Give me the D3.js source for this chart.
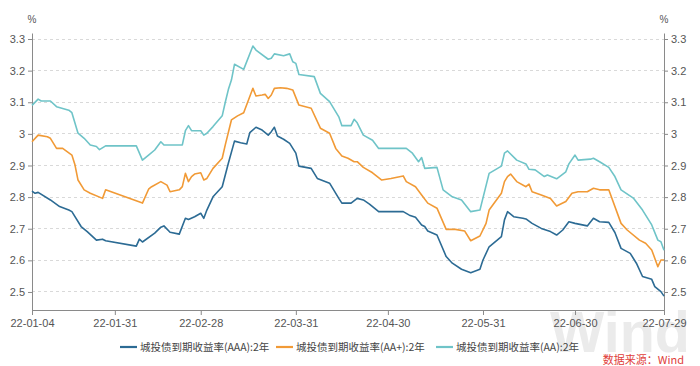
<!DOCTYPE html>
<html>
<head>
<meta charset="utf-8">
<script src="https://cdn.jsdelivr.net/npm/d3@7"></script>
<style>
  html, body { margin: 0; padding: 0; background: #fff; }
  svg { display: block; }
</style>
</head>
<body>
<svg id="chart" width="700" height="366"></svg>
<script>
// ---------------- DATA ----------------
const seriesNames = ["城投债到期收益率(AAA):2年", "城投债到期收益率(AA+):2年", "城投债到期收益率(AA):2年"];
const seriesColors = ["#2c6b94", "#f19a36", "#6fc4c8"];
const xTickLabels = ["2022-01-04","2022-01-31","2022-02-28","2022-03-31","2022-04-30","2022-05-31","2022-06-30","2022-07-29"];
const yTickValues = [2.5, 2.6, 2.7, 2.8, 2.9, 3.0, 3.1, 3.2, 3.3];

const aaaDates = ["01-04","01-05","01-06","01-10","01-13","01-16","01-17","01-20","01-22","01-25","01-27","01-28",
  "02-07","02-08","02-09","02-13","02-15","02-16","02-18","02-21","02-23","02-24","02-26","02-28",
  "03-01","03-02","03-04","03-07","03-09","03-11","03-13","03-15","03-16","03-18","03-20","03-22","03-23","03-24","03-25","03-27","03-29","03-31",
  "04-01","04-05","04-07","04-11","04-14","04-15","04-18","04-20","04-22","04-24","04-27",
  "05-05","05-07","05-09","05-11","05-12","05-13","05-16","05-19","05-21","05-24","05-27","05-30","05-31",
  "06-02","06-06","06-07","06-08","06-10","06-13","06-14","06-16","06-19","06-22","06-24","06-26","06-28","06-30",
  "07-04","07-06","07-08","07-11","07-13","07-15","07-18","07-20","07-22","07-25","07-26","07-28","07-29"];
const aaaValues = [2.819,2.812,2.815,2.791,2.770,2.759,2.754,2.707,2.691,2.664,2.667,2.662,
  2.645,2.667,2.658,2.686,2.705,2.709,2.689,2.683,2.733,2.729,2.738,2.749,
  2.733,2.759,2.801,2.833,2.907,2.977,2.972,2.968,3.004,3.021,3.012,2.996,3.007,3.021,2.993,2.983,2.970,2.939,
  2.898,2.891,2.859,2.844,2.796,2.781,2.781,2.796,2.791,2.778,2.754,
  2.754,2.743,2.736,2.712,2.707,2.693,2.680,2.612,2.591,2.572,2.561,2.572,2.601,
  2.643,2.675,2.728,2.754,2.738,2.733,2.731,2.717,2.701,2.691,2.680,2.696,2.722,2.717,
  2.709,2.733,2.722,2.720,2.688,2.638,2.622,2.591,2.549,2.540,2.517,2.501,2.487];

const aapDates = ["01-04","01-06","01-09","01-10","01-12","01-14","01-15","01-17","01-18","01-19","01-21","01-23","01-27","01-28",
  "02-09","02-11","02-12","02-15","02-17","02-18","02-21","02-22","02-23","02-24","02-25","02-26","02-28",
  "03-01","03-02","03-04","03-07","03-08","03-10","03-12","03-14","03-17","03-18","03-20","03-21","03-22","03-23","03-24","03-26","03-28","03-30",
  "04-01","04-05","04-08","04-11","04-13","04-15","04-17","04-19","04-20","04-22","04-25","04-28",
  "05-01","05-05","05-06","05-09","05-11","05-13","05-16","05-19","05-22","05-25","05-27","05-30",
  "06-01","06-02","06-06","06-07","06-08","06-09","06-11","06-14","06-15","06-16","06-19","06-22","06-24","06-27","06-29",
  "07-01","07-04","07-06","07-08","07-11","07-15","07-17","07-21","07-23","07-25","07-27","07-28","07-29"];
const aapValues = [2.975,2.996,2.991,2.986,2.954,2.954,2.947,2.933,2.902,2.854,2.823,2.812,2.796,2.823,
  2.781,2.825,2.833,2.849,2.838,2.817,2.823,2.833,2.875,2.849,2.865,2.873,2.877,
  2.854,2.859,2.891,2.923,2.965,3.044,3.057,3.067,3.144,3.120,3.123,3.125,3.112,3.123,3.144,3.146,3.144,3.139,
  3.091,3.081,3.018,3.002,2.954,2.930,2.923,2.912,2.912,2.894,2.877,2.854,
  2.859,2.867,2.849,2.833,2.807,2.781,2.765,2.698,2.698,2.693,2.662,2.677,
  2.717,2.759,2.812,2.849,2.865,2.873,2.849,2.833,2.841,2.817,2.807,2.796,2.772,2.786,2.812,
  2.817,2.817,2.828,2.823,2.823,2.717,2.696,2.664,2.654,2.633,2.580,2.601,2.601];

const aaDates = ["01-04","01-06","01-07","01-10","01-12","01-16","01-17","01-19","01-21","01-23","01-25","01-26","01-28",
  "02-07","02-09","02-11","02-13","02-15","02-16","02-22","02-23","02-24","02-25","02-28",
  "03-01","03-02","03-04","03-07","03-08","03-09","03-10","03-11","03-14","03-17","03-18","03-22","03-23","03-24","03-27","03-29","03-30","03-31",
  "04-01","04-06","04-08","04-11","04-14","04-15","04-18","04-19","04-20","04-22","04-25","04-27",
  "05-06","05-08","05-10","05-11","05-12","05-16","05-18","05-21","05-24","05-27","05-30",
  "06-02","06-06","06-07","06-08","06-11","06-14","06-15","06-17","06-20","06-21","06-24","06-27","06-28","06-30",
  "07-01","07-05","07-06","07-08","07-11","07-13","07-15","07-19","07-22","07-25","07-27","07-28","07-29"];
const aaValues = [3.090,3.110,3.104,3.104,3.086,3.075,3.067,3.002,2.986,2.965,2.960,2.950,2.962,
  2.962,2.917,2.933,2.949,2.975,2.965,2.965,3.010,3.026,3.010,3.010,
  2.996,3.002,3.023,3.057,3.100,3.140,3.170,3.220,3.204,3.278,3.265,3.236,3.239,3.253,3.247,3.253,3.228,3.223,
  3.188,3.181,3.128,3.102,3.054,3.026,3.026,3.046,3.035,2.996,2.980,2.954,
  2.954,2.939,2.912,2.925,2.891,2.894,2.823,2.801,2.791,2.754,2.759,
  2.875,2.898,2.939,2.946,2.917,2.905,2.888,2.886,2.865,2.870,2.858,2.880,2.905,2.933,
  2.917,2.920,2.923,2.912,2.894,2.865,2.823,2.797,2.759,2.712,2.664,2.659,2.632];

// ---------------- CHART ----------------
const parse = d3.timeParse("%Y-%m-%d");
const svg = d3.select("#chart");
const fontLatin = "'Liberation Sans', Arial, sans-serif";
const fontCJK = "'Noto Sans CJK SC', 'Liberation Sans', sans-serif";

const mLeft = 32, mRight = 664, mTop = 33, mBottom = 310;
const x = d3.scaleTime()
  .domain([parse(xTickLabels[0]), parse(xTickLabels[xTickLabels.length - 1])])
  .range([mLeft, mRight]);
const y = d3.scaleLinear().domain([2.443, 3.319]).range([mBottom, mTop]);

const series = [
  { name: seriesNames[0], color: seriesColors[0], data: aaaDates.map((d, i) => ({ date: parse("2022-" + d), v: aaaValues[i] })) },
  { name: seriesNames[1], color: seriesColors[1], data: aapDates.map((d, i) => ({ date: parse("2022-" + d), v: aapValues[i] })) },
  { name: seriesNames[2], color: seriesColors[2], data: aaDates.map((d, i) => ({ date: parse("2022-" + d), v: aaValues[i] })) }
];

// watermark
svg.append("text")
  .attr("x", 620).attr("y", 352)
  .attr("text-anchor", "middle")
  .attr("font-family", fontLatin)
  .attr("font-weight", "bold")
  .attr("font-size", 58)
  .attr("fill", "#ebebeb")
  .attr("textLength", 140)
  .attr("lengthAdjust", "spacingAndGlyphs")
  .text("Wind");

// gridlines
svg.append("g")
  .selectAll("line")
  .data(yTickValues)
  .join("line")
  .attr("x1", mLeft).attr("x2", mRight)
  .attr("y1", d => y(d)).attr("y2", d => y(d))
  .attr("stroke", "#d9d9d9")
  .attr("stroke-width", 1)
  .attr("stroke-dasharray", "3,3")
  .attr("shape-rendering", "crispEdges");

const fmtY = d => (Math.round(d * 10) / 10).toString();

function styleAxis(g) {
  g.select(".domain").attr("stroke", "#8a8a8a");
  g.selectAll(".tick line").attr("stroke", "#8a8a8a");
  g.selectAll(".tick text").attr("fill", "#555").attr("font-family", fontLatin).attr("font-size", 11);
}

svg.append("g")
  .attr("transform", `translate(${mLeft},0)`)
  .call(d3.axisLeft(y).tickValues(yTickValues).tickFormat(fmtY).tickSize(4).tickSizeOuter(0).tickPadding(3))
  .call(styleAxis);

svg.append("g")
  .attr("transform", `translate(${mRight},0)`)
  .call(d3.axisRight(y).tickValues(yTickValues).tickFormat(fmtY).tickSize(4).tickSizeOuter(0).tickPadding(3))
  .call(styleAxis);

svg.append("g")
  .attr("transform", `translate(0,${mBottom})`)
  .call(d3.axisBottom(x).tickValues(xTickLabels.map(parse)).tickFormat(d3.timeFormat("%y-%m-%d")).tickSize(5).tickSizeOuter(0).tickPadding(4))
  .call(styleAxis);

// % units
svg.append("text").attr("x", mLeft).attr("y", 23).attr("text-anchor", "middle")
  .attr("font-family", fontLatin).attr("font-size", 10).attr("fill", "#555").text("%");
svg.append("text").attr("x", mRight).attr("y", 23).attr("text-anchor", "middle")
  .attr("font-family", fontLatin).attr("font-size", 10).attr("fill", "#555").text("%");

// lines
const line = d3.line().x(d => x(d.date)).y(d => y(d.v));
svg.append("g")
  .selectAll("path")
  .data(series)
  .join("path")
  .attr("d", d => line(d.data))
  .attr("fill", "none")
  .attr("stroke", d => d.color)
  .attr("stroke-width", 1.6)
  .attr("stroke-linejoin", "round");

// legend
const legendX = [120, 276, 436];
const lg = svg.append("g")
  .selectAll("g")
  .data(series)
  .join("g")
  .attr("transform", (d, i) => `translate(${legendX[i]},347)`);
lg.append("line").attr("x1", 0).attr("x2", 17).attr("y1", 0).attr("y2", 0)
  .attr("stroke", d => d.color).attr("stroke-width", 2.2);
lg.append("text").attr("x", 20).attr("y", 0).attr("dy", "0.35em")
  .attr("font-family", fontCJK).attr("font-size", 10.5).attr("fill", "#444")
  .text(d => d.name);

// source
svg.append("text").attr("x", 684).attr("y", 364)
  .attr("text-anchor", "end")
  .attr("font-family", fontCJK).attr("font-size", 11).attr("fill", "#e0403a")
  .text("数据来源：Wind");
</script>
</body>
</html>
